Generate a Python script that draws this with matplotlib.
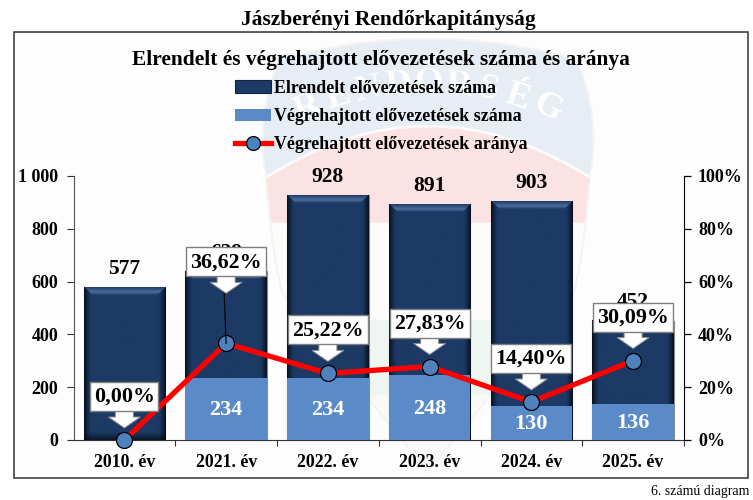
import numpy as np
import matplotlib
matplotlib.use('Agg')
import matplotlib.pyplot as plt
from matplotlib.lines import Line2D
from matplotlib.patches import Patch, Polygon, Rectangle, PathPatch
from matplotlib.path import Path
from matplotlib.transforms import Affine2D
from matplotlib.colors import to_rgb

plt.rcParams['font.family'] = ['Liberation Serif', 'DejaVu Serif']
plt.rcParams['font.weight'] = 'bold'

# adatok
evek = ['2010. év', '2021. év', '2022. év', '2023. év', '2024. év', '2025. év']
elrendelt = [577, 639, 928, 891, 903, 452]
vegrehajtott = [0, 234, 234, 248, 130, 136]
arany = [0.00, 36.62, 25.22, 27.83, 14.40, 30.09]
arany_cimke = ['0,00%', '36,62%', '25,22%', '27,83%', '14,40%', '30,09%']
bal_tick = [0, 200, 400, 600, 800, 1000]
bal_cimke = ['0', '200', '400', '600', '800', '1 000']
jobb_tick = [0, 20, 40, 60, 80, 100]

# a cimkek eltolasa a pont folott, pixelben
cimke_eltolas = [13, 51, 13, 13, 13, 13]

W, H = 753, 500
SOTET = '#1d3a66'
KEK = '#5b8ac8'
PIROS = '#ff0000'

fig = plt.figure(figsize=(W / 100, H / 100), dpi=100)

# hatter: halvany cimer
bg = fig.add_axes([0, 0, 1, 1], zorder=0)
bg.set_xlim(0, W)
bg.set_ylim(H, 0)
bg.axis('off')
keret = Rectangle((14.5, 32), 733.5, 445.5, fc='#fdfdfd', ec='#333333', lw=1.1)
bg.add_patch(keret)

pajzs = Path([(280, 60), (428, 20), (576, 60), (600, 120), (589, 173), (585, 240), (573, 293),
              (428, 470), (283, 293), (271, 240), (267, 173), (256, 120), (280, 60), (280, 60)],
             [Path.MOVETO, Path.CURVE3, Path.CURVE3, Path.CURVE3, Path.CURVE3, Path.CURVE3,
              Path.CURVE3, Path.LINETO, Path.LINETO, Path.CURVE3, Path.CURVE3, Path.CURVE3,
              Path.CURVE3, Path.CLOSEPOLY])
bg.add_patch(PathPatch(pajzs, fc='#fafafa', ec='#f3f3f1', lw=3))
savok = [(30, 190, '#e6edf5'), (224, 320, '#fcfcfb'), (320, 395, '#eff5f0'), (395, 480, '#f9faf8')]
for y0, y1, szin in savok:
    sav = Rectangle((250, y0), 350, y1 - y0, fc=szin, ec='none')
    bg.add_patch(sav)
    sav.set_clip_path(pajzs, bg.transData)
rozsa = PathPatch(Path([(262, 180), (428, 72), (594, 180), (594, 224), (262, 224), (262, 180)],
                       [Path.MOVETO, Path.CURVE3, Path.CURVE3, Path.LINETO, Path.LINETO,
                        Path.CLOSEPOLY]), fc='#fbe3e3', ec='#fbfbfb', lw=2)
bg.add_patch(rozsa)
rozsa.set_clip_path(pajzs, bg.transData)

betuk = 'RENDŐRSÉG'
for i, b in enumerate(betuk):
    t = (i - 4) / 4
    bg.text(428 + t * 120, 84 + 24 * t * t, b, color='white', fontsize=26, ha='center',
            va='center', rotation=-t * 24)

# foabra
ax = fig.add_axes([73.5 / W, 1 - 440 / H, 610.5 / W, 264 / H], zorder=1)
ax.patch.set_alpha(0)
x = np.arange(len(evek))
szel = 0.8


def bevel_kep(w, h):
    # kiemelt oszlop kepe: vilagos felso el, sotet oldalak
    w, h = int(w), int(h)
    xx, yy = np.meshgrid(np.arange(w) + 0.5, np.arange(h) + 0.5)
    dl, dr, dt, db = xx, w - xx, yy, h - yy
    oldal = np.minimum(dl, dr)
    kep = np.ones((h, w, 3)) * np.array(to_rgb(SOTET))
    b = 8.0
    s = np.clip(1 - oldal / b, 0, 1)[..., None]
    kep = kep * (1 - 0.75 * s ** 1.5)
    s = np.clip(1 - db / b, 0, 1)[..., None]
    kep = kep * (1 - 0.6 * s)
    felso = (dt < 8) & (dt < oldal)
    v = np.array(to_rgb('#4c6d9a'))
    a = (np.clip(dt / 5, 0, 1) * np.clip((8 - dt) / 3, 0, 1))[..., None]
    kep = np.where(felso[..., None], np.array(to_rgb(SOTET)) * (1 - a) + v * a, kep)
    return kep


oszlopok = ax.bar(x, elrendelt, szel, color=SOTET, edgecolor='#8a8a8a', linewidth=0.8, zorder=2)
for o in oszlopok:
    x0 = o.get_x()
    h = o.get_height()
    kep = bevel_kep(o.get_width() * 610.5 / 6, h * 264 / 1000)
    ax.imshow(kep, extent=[x0, x0 + o.get_width(), 0, h], aspect='auto', zorder=2.5,
              interpolation='bilinear')
ax.bar(x, vegrehajtott, szel, color=KEK, edgecolor='none', zorder=3)

for xi, v in zip(x, elrendelt):
    ax.annotate(str(v), (xi, v), xytext=(0, 18.5 * 0.72), textcoords='offset points', ha='center',
                va='center', fontsize=15.5, color='black', zorder=6)
for xi, v in zip(x, vegrehajtott):
    if v > 0:
        ax.text(xi, v / 2 - 5, str(v), ha='center', va='center', fontsize=16, color='white', zorder=4)

ax.set_xlim(-0.5, 5.5)
ax.set_ylim(0, 1000)
ax.set_yticks(bal_tick)
ax.set_yticklabels(bal_cimke, fontsize=13)
ax.set_xticks(np.append(x[1:] - 0.5, 5.5))
ax.set_xticks(x, minor=True)
ax.set_xticklabels([])
ax.set_xticklabels(evek, minor=True, fontsize=12.8)
ax.tick_params(axis='x', which='major', length=4, width=0.8, color='#333333')
ax.tick_params(axis='x', which='minor', length=0, pad=10)
ax.tick_params(axis='y', length=5, width=0.8, color='#333333', pad=6)
ax.spines['top'].set_visible(False)
ax.spines['right'].set_visible(False)
ax.spines['left'].set_color('#555555')
ax.spines['bottom'].set_color('#333333')

# masodlagos tengely: arany
ax2 = ax.twinx()
ax2.set_ylim(0, 100)
ax2.plot(x, arany, color=PIROS, lw=3.8, zorder=3, clip_on=False, solid_capstyle='butt')
ax2.plot(x, arany, ls='none', marker='o', ms=11.5, mfc='#4f81bd', mec='black', mew=0.9,
         zorder=4, clip_on=False)
ax2.set_yticks(jobb_tick)
ax2.set_yticklabels([f'{v}%' for v in jobb_tick], fontsize=13)
ax2.tick_params(axis='y', length=5, width=0.9, color='black', pad=5)
ax2.spines['top'].set_visible(False)
ax2.spines['left'].set_visible(False)
ax2.spines['bottom'].set_visible(False)
ax2.spines['right'].set_color('black')

# feliratok a nyillal
fig.canvas.draw()
for xi, a, cimke, d in zip(x, arany, arany_cimke, cimke_eltolas):
    px, py = ax2.transData.transform((xi, a))
    tr = Affine2D().translate(px, py)
    if d > 13:
        ax2.plot([xi, xi - 0.02], [a, a + (d + 1) * 100 / 264], color='black', lw=0.8, zorder=4.5)
    bw = 80 if len(cimke) > 5 else 68
    dob = d + 16
    ax2.add_patch(Polygon([(-9, d + 16), (-9, d + 10), (-16, d + 10), (0, d - 1), (16, d + 10),
                           (9, d + 10), (9, d + 16)], closed=True, fc='white', ec='#8c8c8c',
                          lw=0.7, transform=tr, zorder=5, clip_on=False))
    ax2.add_patch(Rectangle((-bw / 2, dob), bw, 29, fc='white', ec='#7f7f7f', lw=1.0,
                            transform=tr, zorder=5, clip_on=False))
    ax2.text(0, dob + 14, cimke, ha='center', va='center', fontsize=15.8, color='black',
             transform=tr, zorder=6, clip_on=False)

# jelmagyarazat
kezek = [Patch(fc='#1d3a66', ec='#0f2340', lw=0.8),
         Patch(fc=KEK, ec='none'),
         Line2D([0], [0], color=PIROS, lw=3.8, marker='o', ms=10, mfc='#4f81bd', mec='black', mew=0.9)]
cimkek = ['Elrendelt elővezetések száma', 'Végrehajtott elővezetések száma',
          'Végrehajtott elővezetések aránya']
leg = ax2.legend(kezek, cimkek, loc='upper left', bbox_to_anchor=(235 / W, 1 - 80 / H),
                 bbox_transform=fig.transFigure, frameon=False, fontsize=12.9, labelspacing=0.62,
                 handlelength=2.0, handletextpad=0.2, borderpad=0, borderaxespad=0)

fig.text(388 / W, 1 - 20 / H, 'Jászberényi Rendőrkapitányság', ha='center', va='center',
         fontsize=15.5, color='black')
fig.text(381 / W, 1 - 60 / H, 'Elrendelt és végrehajtott elővezetések száma és aránya',
         ha='center', va='center', fontsize=15.4, color='black')
fig.text(749 / W, 1 - 492 / H, '6. számú diagram', ha='right', va='center', fontsize=10,
         fontweight='normal', color='black')

fig.savefig('out.png', dpi=100)
